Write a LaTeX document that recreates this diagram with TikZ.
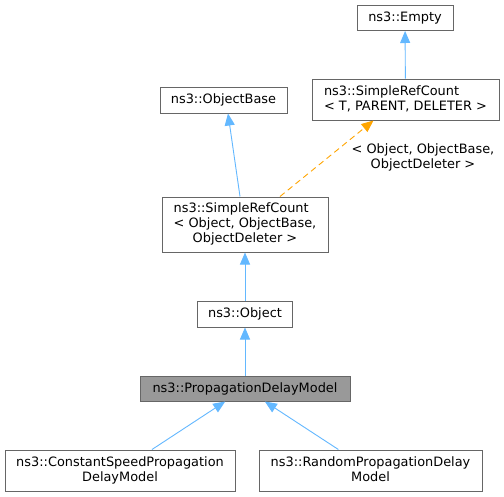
\documentclass[tikz,border=0pt]{standalone}
\usepackage{fontspec}
\setmainfont{DejaVu Sans}
\usetikzlibrary{arrows.meta,calc}
\definecolor{edgeblue}{HTML}{63B8FF}
\definecolor{edgeorange}{HTML}{FFA500}
\definecolor{boxline}{HTML}{666666}
\definecolor{boxfill}{HTML}{999999}
\begin{document}
\begin{tikzpicture}[x=1pt,y=-1pt,
  cls/.style={draw=boxline,line width=1pt,rectangle,inner sep=0pt,fill=white,
    font=\fontsize{12.9}{15}\selectfont},
  inh/.style={draw=edgeblue,line width=0.9pt,-{Triangle[length=12pt,width=10pt,fill=edgeblue]}},
  tmpl/.style={draw=edgeorange,line width=0.9pt,dash pattern=on 6pt off 4pt,
    -{Triangle[length=12pt,width=10pt,fill=edgeorange]}},
  lbl/.style={font=\fontsize{12.9}{15}\selectfont,align=center,inner sep=0pt}]
\useasboundingbox (0,0) rectangle (504,496);
\fill[white] (0,0) rectangle (504,496);
\node[cls,minimum width=96pt,minimum height=25pt] (empty) at (405,18) {ns3::Empty};
\node[cls,minimum width=187pt,minimum height=41pt] (srct) at (405.5,99.5)
  {\begin{tabular}{@{}l@{}}ns3::SimpleRefCount\\\multicolumn{1}{@{}c@{}}{\textless{} T, PARENT, DELETER \textgreater}\end{tabular}};
\node[cls,minimum width=127pt,minimum height=26pt] (obase) at (223.5,100) {ns3::ObjectBase};
\node[cls,minimum width=166pt,minimum height=55pt] (srco) at (245,224.5)
  {\begin{tabular}{@{}l@{}}ns3::SimpleRefCount\\\textless{} Object, ObjectBase,\\\multicolumn{1}{@{}c@{}}{ObjectDeleter \textgreater}\end{tabular}};
\node[cls,minimum width=95pt,minimum height=26pt] (object) at (245,314) {ns3::Object};
\node[cls,fill=boxfill,minimum width=210pt,minimum height=25pt] (pdm) at (245,388.5) {ns3::PropagationDelayModel};
\node[cls,minimum width=230pt,minimum height=41pt] (cs) at (120,470.5)
  {\begin{tabular}{@{}l@{}}ns3::ConstantSpeedPropagation\\\multicolumn{1}{@{}c@{}}{DelayModel}\end{tabular}};
\node[cls,minimum width=223pt,minimum height=41pt] (rp) at (370.5,470.5)
  {\begin{tabular}{@{}l@{}}ns3::RandomPropagationDelay\\\multicolumn{1}{@{}c@{}}{Model}\end{tabular}};
\draw[inh] (srct) -- (empty);
\draw[inh] ($(srco.north)+(-5,0)$) -- ($(obase.south)+(4.5,0)$);
\draw[tmpl] ($(srco.north)+(35,0)$) -- ($(srct.south)+(-32,0)$);
\node[lbl] (tlabel) at (423,157) {\textless{} Object, ObjectBase,\\ObjectDeleter \textgreater};
\draw[inh] (object) -- (srco);
\draw[inh] (pdm) -- (object);
\draw[inh] (cs) -- (pdm);
\draw[inh] (rp) -- (pdm);
\end{tikzpicture}
\end{document}
